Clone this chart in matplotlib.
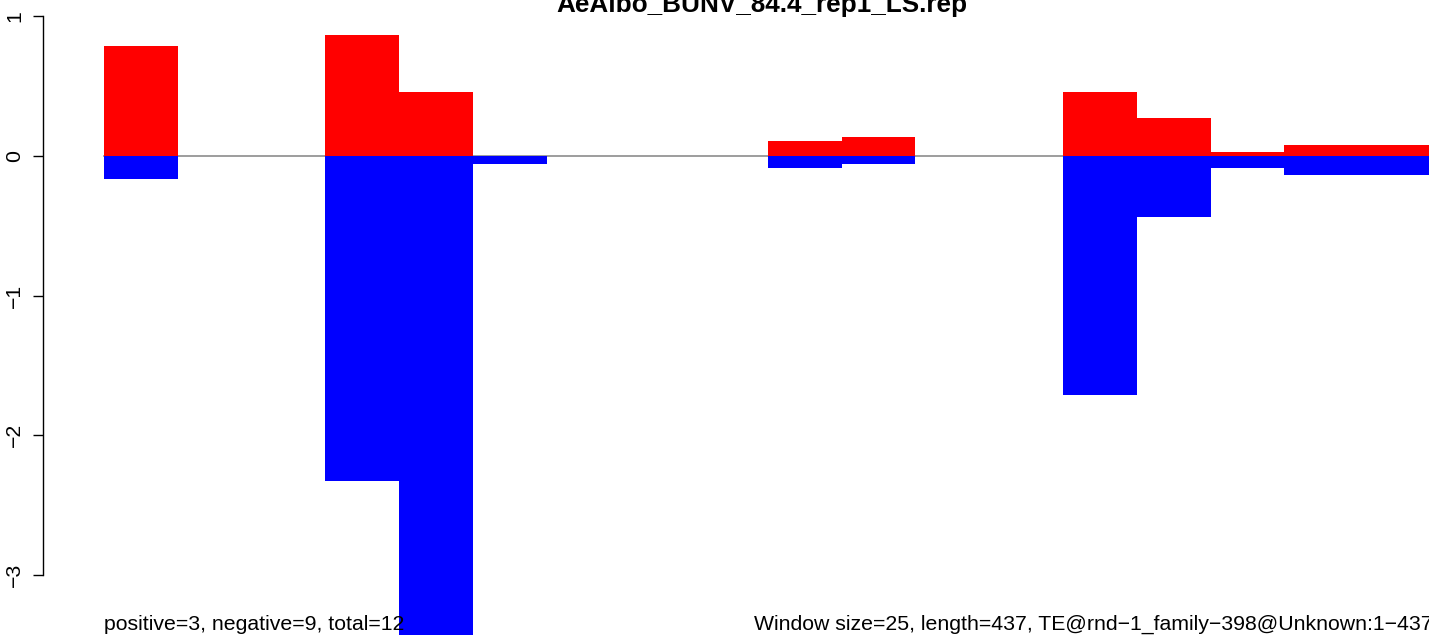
import numpy as np
import matplotlib
matplotlib.use("Agg")
import matplotlib.pyplot as plt

# ---- data ----
window_size = 25
windows = [0, 25, 50, 75, 100, 125, 150, 175, 200, 225, 250, 275, 300, 325, 350, 375, 400, 425]
pos_vals = [0.785, 0, 0, 0.864, 0.456, 0, 0, 0, 0, 0.105, 0.134, 0, 0, 0.456, 0.27, 0.026, 0.077, 0.077]
neg_vals = [-0.164, 0, 0, -2.33, -3.6, -0.057, 0, 0, 0, -0.086, -0.057, 0, 0, -1.713, -0.439, -0.088, -0.138, -0.138]
yticks = [-3, -2, -1, 0, 1]
title = "AeAlbo_BUNV_84.4_rep1_LS.rep"
left_note = "positive=3, negative=9, total=12"
right_note = "Window size=25, length=437, TE@rnd\u22121_family\u2212398@Unknown:1\u2212437"

# ---- layout (pixels) ----
W, H = 1429, 635
px_per_x = 2.9507
x0_px = 104
y0_px = 155.7
px_per_y = 139.8
axis_px = 43

plt.rcParams['font.family'] = ['Liberation Sans', 'DejaVu Sans']
fig = plt.figure(figsize=(W / 100, H / 100), dpi=100)
ax = fig.add_axes([0, 0, 1, 1])
ax.set_xlim(-x0_px / px_per_x, (W - x0_px) / px_per_x)
ax.set_ylim(-(H - y0_px) / px_per_y, y0_px / px_per_y)

ax.axhline(0, xmin=x0_px / W, xmax=1, color='#8c8c8c', lw=1.2, zorder=1)
ax.bar(windows, pos_vals, width=window_size, align='edge', color='#ff0000', lw=0, zorder=2)
ax.bar(windows, neg_vals, width=window_size, align='edge', color='#0000ff', lw=0, zorder=2)

for s in ['top', 'right', 'bottom']:
    ax.spines[s].set_visible(False)
ax.spines['left'].set_position(('data', (axis_px - x0_px) / px_per_x))
ax.spines['left'].set_bounds(min(yticks), max(yticks))
ax.spines['left'].set_linewidth(1.0)
ax.set_xticks([])
ax.set_yticks(yticks)
ax.set_yticklabels(['\u22123', '\u22122', '\u22121', '0', '1'])
ax.tick_params(axis='y', length=7.2, width=1.0, pad=13, labelsize=15.3)
for lab in ax.get_yticklabels():
    lab.set_rotation(90)
    lab.set_ha('center')
    lab.set_va('center')
ax.patch.set_visible(False)

fig.text(762 / W, 1 - 12 / H, title, ha='center', va='baseline', fontsize=18.8, fontweight='bold')
fig.text(x0_px / W, 1 - 630 / H, left_note, ha='left', va='baseline', fontsize=15.3)
fig.text(753.5 / W, 1 - 630 / H, right_note, ha='left', va='baseline', fontsize=15.3)

fig.savefig('out.png', dpi=100)
